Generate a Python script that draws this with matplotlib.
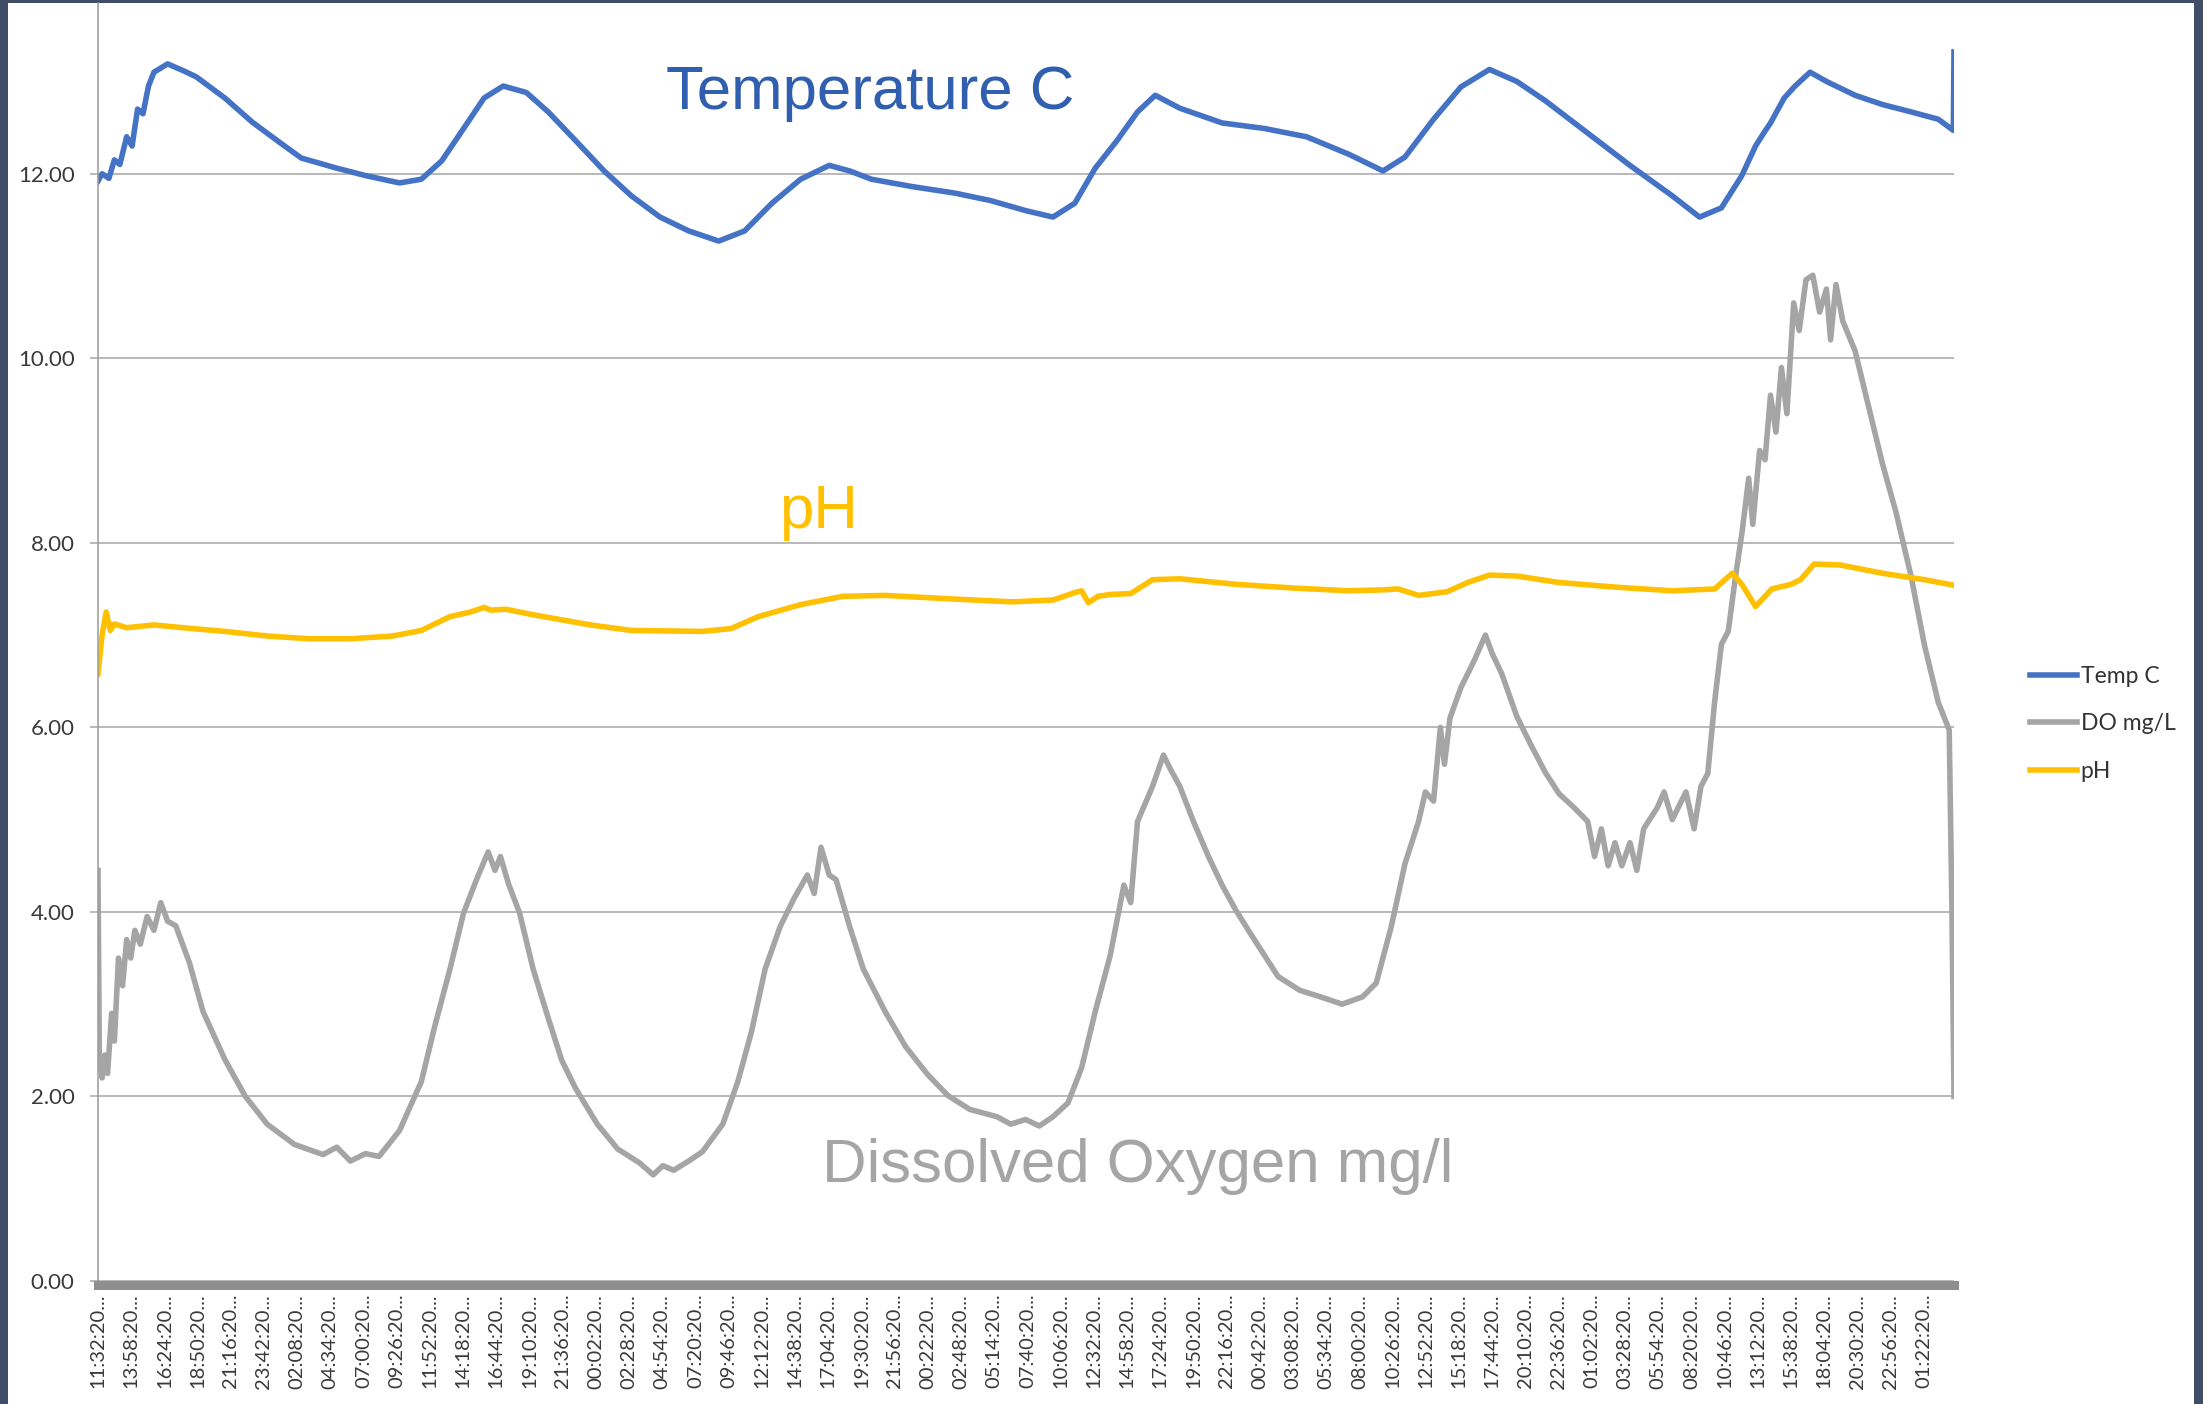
import matplotlib
matplotlib.use("Agg")
import matplotlib.pyplot as plt
from matplotlib.patches import Rectangle

plt.rcParams['font.family'] = ['Lato', 'DejaVu Sans']

# hours since the first sample (11:32:20) and readings
temp_t = [0, 0.3, 0.8, 1.2, 1.6, 2.1, 2.5, 2.9, 3.3, 3.7, 4.1, 5.1, 6.2, 7.2, 9.3, 11.3,
          13.4, 14.9, 17.5, 19.6, 22.1, 23.7, 25.2, 26.8, 28.3, 29.7, 31.4, 33.0, 35.0,
          37.1, 39.1, 41.2, 43.3, 45.5, 47.4, 49.4, 51.5, 53.6, 55.1, 56.7, 59.7, 62.8,
          65.4, 68.0, 70.0, 71.6, 73.1, 74.7, 76.2, 77.5, 79.3, 82.4, 85.5, 88.6, 91.7,
          94.2, 95.8, 97.9, 99.9, 102.0, 104.0, 106.1, 109.2, 112.3, 115.4, 117.4, 119.0,
          120.5, 121.5, 122.1, 122.6, 123.6, 124.4, 125.5, 126.7, 128.8, 130.8, 132.9,
          134.9, 136.0, 136.05]
temp_v = [11.92, 12.0, 11.95, 12.15, 12.1, 12.4, 12.3, 12.7, 12.65, 12.95, 13.1, 13.19,
          13.12, 13.05, 12.82, 12.56, 12.33, 12.17, 12.06, 11.98, 11.9, 11.94, 12.14,
          12.49, 12.82, 12.95, 12.88, 12.67, 12.36, 12.03, 11.76, 11.53, 11.38, 11.27,
          11.38, 11.68, 11.94, 12.09, 12.03, 11.94, 11.86, 11.79, 11.71, 11.6, 11.53,
          11.68, 12.06, 12.36, 12.67, 12.85, 12.71, 12.55, 12.49, 12.4, 12.21, 12.03,
          12.18, 12.59, 12.94, 13.13, 13.0, 12.79, 12.44, 12.09, 11.76, 11.53, 11.63,
          11.98, 12.3, 12.44, 12.55, 12.82, 12.95, 13.1, 13.0, 12.85, 12.75, 12.67,
          12.59, 12.47, 13.32]

do_t = [0, 0.1, 0.3, 0.5, 0.7, 1.0, 1.2, 1.5, 1.8, 2.1, 2.4, 2.7, 3.1, 3.6, 4.1, 4.6,
        5.1, 5.7, 6.7, 7.7, 9.3, 10.8, 12.4, 14.4, 16.5, 17.5, 18.5, 19.6, 20.6, 22.1,
        23.7, 24.7, 25.8, 26.8, 27.8, 28.6, 29.1, 29.5, 30.1, 30.9, 31.9, 33.0, 34.0,
        35.0, 36.6, 38.1, 39.7, 40.7, 41.4, 42.2, 43.3, 44.3, 45.8, 46.9, 47.9, 48.9,
        50.0, 51.0, 52.0, 52.5, 53.0, 53.6, 54.1, 55.1, 56.1, 57.7, 59.2, 60.8, 62.3,
        63.9, 65.9, 66.9, 68.0, 69.0, 70.0, 71.1, 72.1, 73.1, 74.2, 75.2, 75.7, 76.2,
        77.3, 78.1, 78.6, 79.3, 80.3, 81.4, 82.4, 83.4, 84.5, 85.5, 86.5, 88.1, 89.6,
        91.2, 92.7, 93.7, 94.8, 95.8, 96.8, 97.3, 97.9, 98.4, 98.7, 99.1, 99.9, 100.9,
        101.7, 102.2, 102.9, 104.0, 105.0, 106.1, 107.1, 108.2, 109.2, 109.7, 110.2,
        110.7, 111.2, 111.7, 112.3, 112.8, 113.3, 114.3, 114.8, 115.4, 116.4, 117.0,
        117.5, 118.0, 118.5, 119.0, 119.5, 120.0, 120.5, 121.0, 121.3, 121.8, 122.2,
        122.6, 123.0, 123.4, 123.8, 124.3, 124.7, 125.2, 125.7, 126.2, 126.7, 127.0,
        127.4, 127.9, 128.8, 129.8, 130.8, 131.8, 132.9, 133.9, 134.9, 135.7, 135.9,
        136.05]
do_v = [4.45, 2.4, 2.2, 2.45, 2.25, 2.9, 2.6, 3.5, 3.2, 3.7, 3.5, 3.8, 3.65, 3.95, 3.8,
        4.1, 3.9, 3.85, 3.45, 2.92, 2.4, 2.0, 1.7, 1.48, 1.37, 1.45, 1.3, 1.38, 1.35,
        1.63, 2.16, 2.77, 3.38, 3.99, 4.37, 4.65, 4.45, 4.6, 4.3, 3.99, 3.38, 2.85, 2.39,
        2.09, 1.7, 1.43, 1.28, 1.15, 1.25, 1.2, 1.3, 1.4, 1.7, 2.16, 2.7, 3.38, 3.84,
        4.14, 4.4, 4.2, 4.7, 4.4, 4.35, 3.84, 3.38, 2.92, 2.54, 2.24, 2.01, 1.86, 1.78,
        1.7, 1.75, 1.68, 1.78, 1.93, 2.31, 2.92, 3.53, 4.29, 4.1, 4.98, 5.36, 5.7, 5.55,
        5.36, 4.98, 4.6, 4.29, 4.02, 3.76, 3.53, 3.3, 3.15, 3.08, 3.0, 3.08, 3.23, 3.84,
        4.52, 4.98, 5.3, 5.2, 6.0, 5.6, 6.1, 6.43, 6.73, 7.0, 6.8, 6.58, 6.12, 5.82,
        5.51, 5.28, 5.13, 4.98, 4.6, 4.9, 4.5, 4.75, 4.5, 4.75, 4.45, 4.9, 5.13, 5.3,
        5.0, 5.3, 4.9, 5.36, 5.5, 6.27, 6.9, 7.04, 7.6, 8.1, 8.7, 8.2, 9.0, 8.9, 9.6,
        9.2, 9.9, 9.4, 10.6, 10.3, 10.85, 10.9, 10.5, 10.75, 10.2, 10.8, 10.4, 10.08,
        9.47, 8.86, 8.33, 7.64, 6.88, 6.27, 5.97, 4.0, 2.0]

ph_t = [0, 0.3, 0.6, 0.9, 1.2, 2.1, 4.1, 6.2, 9.3, 12.4, 15.5, 18.5, 21.6, 23.7, 25.8,
        27.3, 28.3, 28.8, 29.9, 31.9, 36.1, 39.1, 44.3, 46.4, 48.4, 51.5, 54.6, 57.7,
        62.8, 67.0, 70.0, 71.6, 72.1, 72.6, 73.3, 74.2, 75.7, 77.3, 79.3, 83.4, 87.6,
        91.7, 94.2, 95.3, 96.8, 98.9, 100.4, 102.0, 104.0, 107.1, 111.2, 115.4, 118.5,
        119.8, 120.5, 121.5, 122.7, 124.1, 124.8, 125.8, 127.7, 130.8, 133.9, 136.05]
ph_v = [6.58, 7.0, 7.25, 7.05, 7.12, 7.08, 7.11, 7.08, 7.04, 6.99, 6.96, 6.96, 6.99,
        7.05, 7.2, 7.25, 7.3, 7.27, 7.28, 7.22, 7.11, 7.05, 7.04, 7.07, 7.2, 7.33, 7.42,
        7.43, 7.39, 7.36, 7.38, 7.46, 7.48, 7.35, 7.42, 7.44, 7.45, 7.6, 7.61, 7.55,
        7.51, 7.48, 7.49, 7.5, 7.43, 7.47, 7.57, 7.65, 7.64, 7.57, 7.52, 7.48, 7.5,
        7.67, 7.55, 7.31, 7.5, 7.55, 7.6, 7.77, 7.76, 7.67, 7.6, 7.54]

tick_labels = ["11:32", "13:58", "16:24", "18:50", "21:16", "23:42", "02:08", "04:34",
               "07:00", "09:26", "11:52", "14:18", "16:44", "19:10", "21:36", "00:02",
               "02:28", "04:54", "07:20", "09:46", "12:12", "14:38", "17:04", "19:30",
               "21:56", "00:22", "02:48", "05:14", "07:40", "10:06", "12:32", "14:58",
               "17:24", "19:50", "22:16", "00:42", "03:08", "05:34", "08:00", "10:26",
               "12:52", "15:18", "17:44", "20:10", "22:36", "01:02", "03:28", "05:54",
               "08:20", "10:46", "13:12", "15:38", "18:04", "20:30", "22:56", "01:22"]
tick_step_h = 146 / 60.0

W, H = 2203, 1404
fig = plt.figure(figsize=(W / 100, H / 100), dpi=100)
fig.patch.set_facecolor('#3f4e66')
fig.add_artist(Rectangle((8 / W, 0), (2194 - 8) / W, (H - 3) / H,
                         transform=fig.transFigure, facecolor='white',
                         edgecolor='none', zorder=-10))

ax = fig.add_axes([98 / W, 123 / H, (1954 - 98) / W, (1401 - 123) / H])
ax.set_facecolor('none')

lw = 4.0
ax.plot(temp_t, temp_v, color='#4472C4', lw=lw, label='Temp C', solid_joinstyle='round')
ax.plot(do_t, do_v, color='#A5A5A5', lw=lw, label='DO mg/L', solid_joinstyle='round')
ax.plot(ph_t, ph_v, color='#FFC000', lw=lw, label='pH', solid_joinstyle='round')

ax.set_xlim(0, 136.05)
ax.set_ylim(0, 13.85)

yt = list(range(0, 14, 2))
ax.set_yticks(yt)
ax.set_yticklabels([f'{v:.2f}' for v in yt])
ax.yaxis.grid(True, color='#a6a6a6', lw=1.1)
ax.set_axisbelow(True)

ax.set_xticks([i * tick_step_h for i in range(len(tick_labels))])
ax.set_xticklabels([s + ':20...' for s in tick_labels])

for s in ['top', 'right']:
    ax.spines[s].set_visible(False)
ax.spines['left'].set_color('#9a9a9a')
ax.spines['left'].set_linewidth(1.1)
ax.spines['bottom'].set_color('#8f8f8f')
ax.spines['bottom'].set_linewidth(6.5)
ax.spines['bottom'].set_position(('outward', 3.2))

ax.tick_params(axis='y', length=5.8, width=1.1, color='#a6a6a6', pad=11,
               labelsize=16, labelcolor='#3a3a3a')
ax.tick_params(axis='x', length=0, pad=6, labelsize=14.5, labelcolor='#3a3a3a',
               labelrotation=90)

txt_font = 'Liberation Sans'
ax.text(56.6, 12.7, 'Temperature C', color='#2f5fae', fontsize=44.5,
        family=txt_font, ha='center', va='baseline')
ax.text(52.8, 8.16, 'pH', color='#FFC000', fontsize=44.5,
        family=txt_font, ha='center', va='baseline')
ax.text(76.2, 1.07, 'Dissolved Oxygen mg/l', color='#A5A5A5', fontsize=44.5,
        family=txt_font, ha='center', va='baseline')

fig.legend(loc='upper left', bbox_to_anchor=(2030 / W, 1 - 666 / H), frameon=False,
           borderpad=0, borderaxespad=0, handlelength=2.06, handletextpad=0.15,
           labelspacing=1.15, fontsize=16.5, labelcolor='#333333')

fig.savefig('out.png', dpi=100, facecolor=fig.get_facecolor())
